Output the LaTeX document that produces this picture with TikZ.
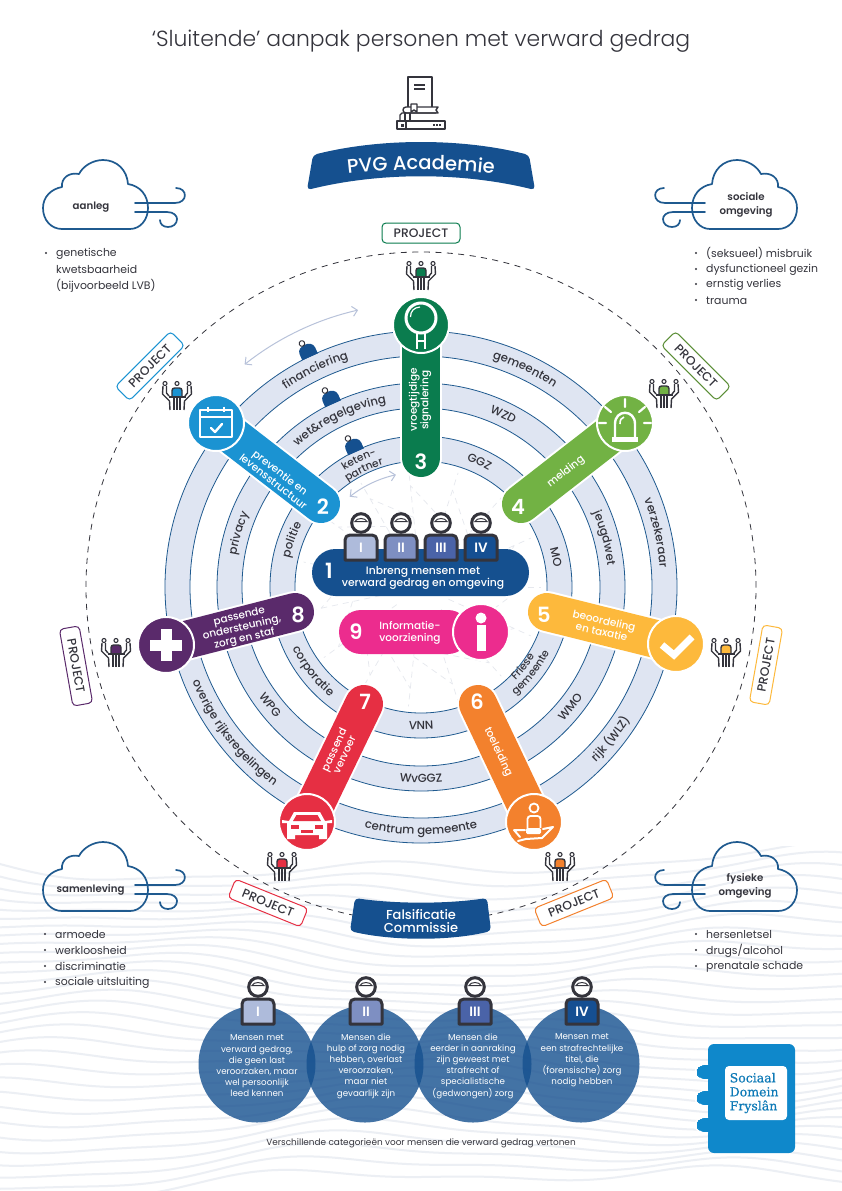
\documentclass[tikz,border=0pt]{standalone}
\usepackage{fontspec}
\setmainfont{Poppins}
\newfontfamily\plight{Poppins Light}
\newfontfamily\pmed{Poppins Medium}
\newfontfamily\psemi{Poppins SemiBold}
\newfontfamily\slab[FakeBold=0.5]{DejaVu Serif}
\usetikzlibrary{arrows.meta,decorations.text,calc}
\definecolor{ink}{HTML}{34343C}
\definecolor{navy}{HTML}{15508F}
\definecolor{band}{HTML}{DFE5F2}
\definecolor{bandline}{HTML}{1F5A8F}
\definecolor{wave}{HTML}{ECEFF4}
\definecolor{web}{HTML}{E6E8EE}
\definecolor{arrowc}{HTML}{B8C2DA}
\definecolor{cgreen}{HTML}{0A7C4E}
\definecolor{cblue}{HTML}{1B93D2}
\definecolor{clime}{HTML}{72B244}
\definecolor{cyellow}{HTML}{FDB93C}
\definecolor{corange}{HTML}{F3812D}
\definecolor{cred}{HTML}{E62F43}
\definecolor{cpurple}{HTML}{5A2A6B}
\definecolor{cpink}{HTML}{EC2C8E}
\definecolor{catI}{HTML}{AEBBDB}
\definecolor{catII}{HTML}{7E8FC2}
\definecolor{catIII}{HTML}{4A63A8}
\definecolor{catIV}{HTML}{154F92}
\definecolor{logo}{HTML}{0F88CB}

\newcommand\fsz[1]{\fontsize{#1}{#1}\selectfont}
\newcommand\ringfont{\pmed\fontsize{11.7}{13}\selectfont\color{ink}}
\newcommand\ringsmall{\pmed\fontsize{10.6}{12}\selectfont\color{ink}}

\tikzset{
  x=1pt,y=-1pt,
  ringline/.style={draw=bandline,line width=.8pt},
  spoketext/.style={text=white,align=center,font=\pmed\fontsize{10.5}{11.4}\selectfont,inner sep=0},
  numlabel/.style={text=white,font=\psemi\fsz{21},inner sep=0},
  projectbox/.style={draw=#1,fill=white,rounded corners=4pt,line width=1pt,minimum width=78pt,minimum height=20pt,
    inner sep=0,text=ink,font=\pmed\fsz{12.3}},
  listtext/.style={anchor=west,inner sep=0,text=ink,font=\fsz{10.9}},
  cloudname/.style={text=ink,align=center,font=\psemi\fontsize{10.2}{14}\selectfont,inner sep=0},
  cattext/.style={text=white,align=center,font=\fontsize{8.7}{11.2}\selectfont,inner sep=0},
  iconline/.style={draw=white,line width=2.4pt,line join=round},
  dark/.style={draw=ink,line width=1.4pt},
  pics/cloudwind/.style={code={
    \draw[bandline,line width=1.7pt,line join=round]
      (19,69) -- (87,69) .. controls (97,69) and (105,60) .. (105,48)
      .. controls (105,35) and (97,26) .. (85,24)
      .. controls (84,10) and (74,0) .. (60,0)
      .. controls (50,0) and (40,6) .. (36,14)
      .. controls (26,12) and (18,18) .. (19,27)
      .. controls (8,29) and (0,37) .. (0,48)
      .. controls (0,60) and (8,69) .. (19,69) -- cycle;
    \draw[bandline,line width=1.7pt,line cap=round]
      (92,43) -- (132,43) .. controls (145,43) and (145,28) .. (133,28);
    \draw[bandline,line width=1.7pt,line cap=round]
      (92,52) -- (124,52) .. controls (131,52) and (134,56) .. (134,59)
      .. controls (134,64) and (130,67) .. (125,67) .. controls (120,67) and (117,64) .. (117,60);
  }},
}

% text following a ring: clockwise over the top, counter-clockwise along the bottom
\newcommand\cwtext[4][\ringfont]{\path[decorate,decoration={text along path,text={|#1|#4},text align=center}]
  (#3+70:#2) arc[start angle=#3+70,end angle=#3-70,radius=#2];}
\newcommand\ccwtext[4][\ringfont]{\path[decorate,decoration={text along path,text={|#1|#4},text align=center}]
  (#3-70:#2) arc[start angle=#3-70,end angle=#3+70,radius=#2];}

% one numbered spoke: pill, round icon disc and number
\newcommand\spoke[8]{
  \coordinate (c#1) at (#3,#4);
  \coordinate (e#1) at (#5,#6);
  \draw[white,line width=42pt,line cap=round] (c#1) -- (e#1);
  \draw[#2,line width=38pt,line cap=round] (c#1) -- (e#1);
  \node[circle,fill=#2,draw=white,line width=2pt,minimum size=56pt,inner sep=0] (icon#1) at (c#1) {};
  \node[numlabel] (num#1) at (#7,#8) {#1};
}

% seated team around a table
\newcommand\meeting[3]{
  \begin{scope}[shift={(#1,#2)}]
    \draw[dark,fill=#3,rounded corners=2.5pt] (-5,1) -- (-5,-8) -- (5,-8) -- (5,1);
    \draw[dark,fill=white,line width=1.1pt] (-12,-12.5) circle[radius=2] (0,-12.5) circle[radius=2] (12,-12.5) circle[radius=2];
    \draw[dark] (-8.5,1) -- (8.5,1);
    \draw[dark] (-3,1) -- (-3,14) (0,1) -- (0,14) (3,1) -- (3,14);
    \draw[dark,line join=round] (-14,-10) -- (-14.5,-2) -- (-7.5,5) -- (-7,14);
    \draw[dark,line join=round] (-10.5,-10) -- (-10.5,-3) -- (-8,0);
    \draw[dark,line join=round] (14,-10) -- (14.5,-2) -- (7.5,5) -- (7,14);
    \draw[dark,line join=round] (10.5,-10) -- (10.5,-3) -- (8,0);
  \end{scope}
}

% figure with head and torso carrying a category number
\newcommand\person[4]{
  \begin{scope}[shift={(#1,#2)}]
    \draw[ink,line width=3pt,fill=white] (0,0) circle[radius=9.3];
    \draw[ink,line width=1pt] (-6,-1.5) .. controls (-4.5,-5.5) and (4.5,-5.5) .. (6,-1.5) -- cycle;
    \draw[ink,line width=3pt,fill=#3,line join=round]
      (-16,37) -- (-16,17) .. controls (-16,14) and (-14,12) .. (-11,12) -- (11,12)
      .. controls (14,12) and (16,14) .. (16,17) -- (16,37) -- cycle;
    \node[text=white,font=\psemi\fsz{13.5},inner sep=0] at (0,25) {#4};
  \end{scope}
}

% small figure sitting on a ring
\newcommand\ringperson[2]{
  \begin{scope}[shift={(#1,#2)},rotate=24]
    \fill[navy] (-8.5,7.5) -- (-8.5,1) .. controls (-8.5,-8) and (8.5,-8) .. (8.5,1) -- (8.5,7.5) -- cycle;
    \draw[ink,fill=white,line width=1pt] (-2,-8) circle[radius=2.8];
  \end{scope}
}

\newcommand\bulletitem[3]{
  \fill[ink] (#1,#2) circle[radius=1.2];
  \node[listtext] at ($(#1,#2)+(10,0.8)$) {#3};
}

\begin{document}
\begin{tikzpicture}
\useasboundingbox (0,0) rectangle (842,1191);
\fill[white] (0,0) rectangle (842,1191);

% wave texture along the lower part of the page
\begin{scope}
  \clip (0,846) rectangle (842,1191);
  \foreach \i in {0,...,30}{
    \draw[wave,line width=2pt] plot[smooth,domain=-10:852,samples=44]
      (\x,{864+\i*10.6+9*sin(\x*0.75+\i*14)+11*sin(\x*0.33-\i*9)+3*sin(\x*1.6+\i*31)});
  }
\end{scope}

% title
\node[font=\plight\fsz{21.9},text=ink,inner sep=0] (title) at (421,41) {‘Sluitende’ aanpak personen met verward gedrag};

% academy book stack
\begin{scope}[line join=round]
  \draw[dark,fill=white] (408,107) -- (408,77) -- (432,77) -- (432,107);
  \draw[dark] (414,85) -- (425,85) (414,89) -- (425,89);
  \draw[dark] (438,107) -- (406,107) .. controls (402,107) and (402,113) .. (406,113) -- (438,113) -- (436,110) -- cycle;
  \draw[dark,fill=white] (411,104) -- (411,112) -- (414,110) -- (417,112) -- (417,104) -- cycle;
  \draw[dark] (436,113) -- (402,113) -- (400,115) -- (400,121) -- (437,121);
  \draw[dark] (405,113) -- (405,121) (410,113) -- (410,121);
  \draw[dark] (397,121) rectangle (445,129);
  \draw[dark] (406,121) -- (406,129);
  \fill[ink] (400.5,123.5) rectangle (403.5,126.5);
  \draw[ink,line width=1.2pt,dash pattern=on 2pt off 1.2pt] (433,125) -- (442,125);
\end{scope}

% academy banner
\fill[navy,rounded corners=4pt] (313,155) .. controls (380,138) and (462,138) .. (529,155)
  -- (535,190) .. controls (462,172) and (380,172) .. (307,190) -- cycle;
\path[decorate,decoration={text along path,text={|\pmed\fontsize{19.5}{22}\selectfont\color{white}|PVG Academie},text align=center}]
  (314,179) .. controls (380,166.5) and (462,166.5) .. (528,179);

% factors in the four corners
\pic at (43,160) {cloudwind};
\pic[xscale=-1] at (797,160) {cloudwind};
\pic at (43,842) {cloudwind};
\pic[xscale=-1] at (797,842) {cloudwind};
\node[cloudname] (aanleg) at (91,207) {aanleg};
\node[cloudname] (sociaal) at (746,205) {sociale\\omgeving};
\node[cloudname] (samenleving) at (90.5,890) {samenleving};
\node[cloudname] (fysiek) at (745,886) {fysieke\\omgeving};

\bulletitem{46}{253}{genetische}
\node[listtext] at (56,269.8) {kwetsbaarheid};
\node[listtext] at (56,285.8) {(bijvoorbeeld LVB)};
\bulletitem{696}{253}{(seksueel) misbruik}
\bulletitem{696}{269}{dysfunctioneel gezin}
\bulletitem{696}{284}{ernstig verlies}
\bulletitem{696}{300}{trauma}
\bulletitem{45}{934}{armoede}
\bulletitem{45}{950}{werkloosheid}
\bulletitem{45}{966}{discriminatie}
\bulletitem{45}{982}{sociale uitsluiting}
\bulletitem{696}{934}{hersenletsel}
\bulletitem{696}{950}{drugs/alcohol}
\bulletitem{696}{966}{prenatale schade}

% wheel: dashed project circle, three rings and the web around the hub
\begin{scope}[shift={(421,587)},y=1pt]
  \draw[ink,line width=.8pt,dash pattern=on 6pt off 5.5pt] (0,0) circle[radius=335];
  \foreach \ra/\rb in {256/231,204/179,151/126}{
    \fill[band,even odd rule] (0,0) circle[radius=\ra] (0,0) circle[radius=\rb];
    \draw[ringline] (0,0) circle[radius=\ra] (0,0) circle[radius=\rb];
  }
  \foreach \a in {0,24,...,336}{
    \draw[web,line width=.7pt,dash pattern=on 6pt off 5pt] (\a:30) -- (\a:120);
    \draw[web,line width=.7pt,dash pattern=on 6pt off 5pt] (\a:70) -- (\a+24:102);
  }

  % ring labels
  \cwtext{239.5}{116}{financiering}
  \cwtext{187.5}{116}{wet{\&}regelgeving}
  \cwtext[\ringsmall]{139}{116}{keten-}
  \cwtext[\ringsmall]{128}{116}{partner}
  \cwtext{239.5}{64.5}{gemeenten}
  \cwtext{187.5}{64.5}{WZD}
  \cwtext{134.5}{65}{GGZ}
  \cwtext{239.5}{13}{verzekeraar}
  \cwtext{187.5}{15}{jeugdwet}
  \cwtext{134.5}{12.6}{MO}
  \cwtext{187.5}{163.6}{privacy}
  \cwtext{134.5}{160}{politie}
  \ccwtext{247.5}{-38.7}{rijk (WLZ)}
  \ccwtext{195.5}{-38.7}{WMO}
  \ccwtext[\ringsmall]{133}{-38}{Friese}
  \ccwtext[\ringsmall]{144}{-38}{gemeente}
  \ccwtext{247.5}{-90}{centrum gemeente}
  \ccwtext{195.5}{-90}{WvGGZ}
  \ccwtext{142.5}{-90}{VNN}
  \ccwtext{247.5}{218}{overige rijksregelingen}
  \ccwtext{195.5}{218}{WPG}
  \ccwtext{142.5}{218}{corporatie}

  % exchange arrows between the rings
  \draw[arrowc,line width=1pt,{Straight Barb[length=5pt,width=10pt]}-{Straight Barb[length=5pt,width=10pt]}]
    (128.4:284) arc[start angle=128.4,end angle=102.8,radius=284];
  \draw[arrowc,line width=1pt,{Straight Barb[length=5pt,width=10pt]}-{Straight Barb[length=5pt,width=10pt]}]
    (128.3:115) arc[start angle=128.3,end angle=102.6,radius=115];
\end{scope}

\ringperson{307}{350}
\ringperson{330}{397}
\ringperson{353}{445}

% numbered spokes
\spoke{3}{cgreen}{421}{325}{421}{458}{421}{462}
\spoke{4}{clime}{625}{423}{521}{504}{518}{507}
\spoke{2}{cblue}{216}{423}{321}{504}{323}{507}
\spoke{5}{cyellow}{676}{644}{547}{612}{544}{615}
\spoke{6}{corange}{534}{822}{478}{704}{477}{702}
\spoke{7}{cred}{307}{822}{364}{704}{365}{702}
\spoke{8}{cpurple}{166}{645}{295}{612}{298}{615}

\node[spoketext,rotate=90] (t3) at (420,400) {vroegtijdige\\signalering};
\node[spoketext,rotate=38] (t4) at (566,472) {melding};
\node[spoketext,rotate=-38] (t2) at (277,477) {preventie en\\levensstructuur};
\node[spoketext,rotate=-13] (t5) at (603,626) {beoordeling\\en taxatie};
\node[spoketext,rotate=-65] (t6) at (498,752) {toeleiding};
\node[spoketext,rotate=65] (t7) at (339,752) {passend\\vervoer};
\node[spoketext,rotate=13] (t8) at (242,628) {passende\\ondersteuning,\\zorg en staf};

% magnifier
\draw[white,line width=3pt] (421,318) circle[radius=15];
\draw[white,line width=1.2pt] (410.5,317) .. controls (410.5,311) and (414,307.5) .. (420,307);
\draw[white,line width=2.2pt] (417,333) -- (417,349) (425,333) -- (425,349) (417,341) -- (425,341);

% calendar
\draw[iconline] (200,410) rectangle (232,437);
\draw[iconline] (200,417) -- (232,417);
\draw[iconline] (208,406.5) -- (208,412) (224,406.5) -- (224,412);
\draw[white,line width=2.4pt,line cap=round,line join=round] (211,428) -- (215,432) -- (222,424);

% rotating alarm light
\draw[white,line width=2.4pt,line join=round] (615,438) -- (615,424) .. controls (615,409) and (635,409) .. (635,424) -- (635,438);
\fill[white] (612,437) rectangle (638,442);
\draw[white,line width=1.6pt] (620,424) .. controls (620,420) and (621,418) .. (624,417);
\draw[white,line width=2.2pt,line cap=round]
  (625,399) -- (625,407) (605,407) -- (611,412) (645,407) -- (639,412) (599,423) -- (606,423) (651,423) -- (644,423);

% check mark
\draw[white,line width=7pt,line join=miter] (662,645) -- (674,655) -- (692,637);

% plus sign
\fill[white] (150,639.5) rectangle (182,650.5);
\fill[white] (160.5,629) rectangle (171.5,661);

% car
\begin{scope}[shift={(307,822)}]
  \fill[white,line join=round] (-13,-10) -- (13,-10) -- (18,-1) -- (25,-2) -- (25,1) -- (20,1) -- (20,12)
    -- (20,17) -- (12,17) -- (12,13) -- (-12,13) -- (-12,17) -- (-20,17) -- (-20,1) -- (-25,1) -- (-25,-2) -- (-18,-1) -- cycle;
  \fill[cred] (-10.5,-7) -- (10.5,-7) -- (14,-1) -- (-14,-1) -- cycle;
  \fill[cred] (-16,3) rectangle (-8,7);
  \fill[cred] (8,3) rectangle (16,7);
  \fill[cred] (-6,8) rectangle (6,10.5);
\end{scope}

% hand holding a figure
\begin{scope}[shift={(534,822)}]
  \draw[white,line width=1.8pt] (0,-14) circle[radius=4.5];
  \draw[white,line width=1.8pt,rounded corners=3pt] (-6.5,10) -- (-6.5,-6) -- (6.5,-6) -- (6.5,6);
  \fill[white,rounded corners=1.5pt] (-8,6) rectangle (7,12);
  \draw[white,line width=2pt,line join=round,line cap=round]
    (-20,8) -- (-9,8) (9,7) -- (19,5) -- (8,16) -- (-8,17) -- (-16,19) (-20,8) -- (-14,15);
\end{scope}

% central bar with the four categories
\node[fill=navy,rounded corners=23.5pt,minimum width=217pt,minimum height=47pt,inner sep=0] (inbreng) at (420.5,572.5) {};
\node[numlabel] (num1) at (329,571) {1};
\node[text=white,align=center,font=\pmed\fontsize{10.8}{11.8}\selectfont,inner sep=0] (inbrengt) at (423,578) {Inbreng mensen met\\verward gedrag en omgeving};
\person{361}{523}{catI}{I}
\person{401}{523}{catII}{II}
\person{441}{523}{catIII}{III}
\person{481}{523}{catIV}{IV}

% information bar
\fill[cpink,rounded corners=22pt] (339,610) rectangle (470,654);
\node[circle,fill=cpink,draw=white,line width=2pt,minimum size=56pt,inner sep=0] (info) at (481,632) {};
\fill[white] (481,618) circle[radius=5.5];
\fill[white] (476.5,625) rectangle (485.5,651);
\node[numlabel] (num9) at (356,632) {9};
\node[text=white,align=center,font=\pmed\fontsize{10.5}{12}\selectfont,inner sep=0] (infot) at (410,632.5) {Informatie-\\voorziening};

% project teams
\meeting{421}{276}{cgreen}
\meeting{177}{396}{cblue}
\meeting{664}{394}{clime}
\meeting{726}{653}{cyellow}
\meeting{116}{653}{cpurple}
\meeting{560}{867}{corange}
\meeting{282}{867}{cred}

\node[projectbox=cgreen] (p3) at (421,233) {PROJECT};
\node[projectbox=cblue,rotate=45] (p2) at (150,366) {PROJECT};
\node[projectbox=clime!80!black,rotate=-45] (p4) at (696,366) {PROJECT};
\node[projectbox=cyellow,rotate=80] (p5) at (766,665) {PROJECT};
\node[projectbox=cpurple,rotate=-80] (p8) at (76,666) {PROJECT};
\node[projectbox=corange,rotate=22] (p6) at (574,903) {PROJECT};
\node[projectbox=cred,rotate=-22] (p7) at (268,903) {PROJECT};

% review commission banner
\fill[navy,rounded corners=4pt] (355,898) .. controls (395,904) and (447,904) .. (487,898)
  -- (491,931) .. controls (450,941) and (392,941) .. (350,931) -- cycle;
\node[text=white,align=center,font=\pmed\fontsize{13}{12.5}\selectfont,inner sep=0] (falsificatie) at (421,921) {Falsificatie\\Commissie};

% the four categories explained
\foreach \cx in {257,365,473,581}{
  \fill[navy,opacity=.8] (\cx,1064) circle[radius=58.5];
}
\person{258}{987}{catI}{I}
\person{366}{987}{catII}{II}
\person{475}{987}{catIII}{III}
\person{582}{987}{catIV}{IV}
\node[cattext] (cat1) at (257,1066) {Mensen met\\verward gedrag,\\die geen last\\veroorzaken, maar\\wel persoonlijk\\leed kennen};
\node[cattext] (cat2) at (366,1066) {Mensen die\\hulp of zorg nodig\\hebben, overlast\\veroorzaken,\\maar niet\\gevaarlijk zijn};
\node[cattext] (cat3) at (473,1066) {Mensen die\\eerder in aanraking\\zijn geweest met\\strafrecht of\\specialistische\\(gedwongen) zorg};
\node[cattext] (cat4) at (582,1060.5) {Mensen met\\een strafrechtelijke\\titel, die\\(forensische) zorg\\nodig hebben};
\node[text=ink,font=\fsz{8.9},inner sep=0] (caption) at (421,1143) {Verschillende categorieën voor mensen die verward gedrag vertonen};

% organisation mark
\fill[logo,rounded corners=6pt] (708,1044) rectangle (795,1153);
\fill[white,rounded corners=4pt] (725,1066) rectangle (787,1120);
\foreach \ry in {1072,1098,1125}{
  \draw[logo,fill=logo,line width=0pt,rounded corners=6.5pt] (697,\ry-6.5) rectangle (720,\ry+6.5);
  \draw[white,line width=1.2pt] (708,\ry-8) .. controls (700,\ry-8) and (695,\ry-5) .. (695,\ry) .. controls (695,\ry+5) and (700,\ry+8) .. (708,\ry+8);
}
\node[anchor=west,align=left,text=logo!90!black,font=\slab\fontsize{12.5}{14}\selectfont,inner sep=0] (logotext) at (729.5,1093) {Sociaal\\Domein\\Fryslân};
\end{tikzpicture}
\end{document}
